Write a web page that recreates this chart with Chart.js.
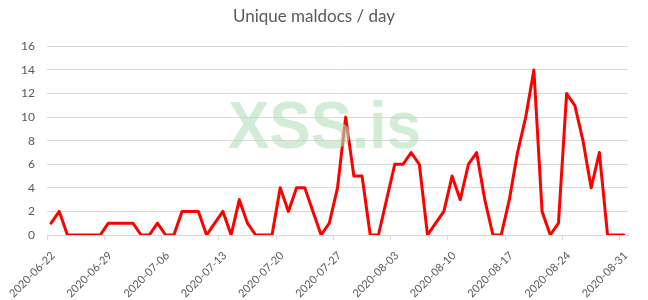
<!DOCTYPE html>
<html>
<head>
<meta charset="utf-8">
<script src="https://cdn.jsdelivr.net/npm/chart.js@4.4.1/dist/chart.umd.min.js"></script>
<style>
    html, body { margin: 0; padding: 0; background: #ffffff; }
    #wrap { width: 648px; height: 300px; }
</style>
</head>
<body>
<div id="wrap"><canvas id="canvas" width="648" height="300"></canvas></div>
<script>
    // one value per day, 2020-06-22 .. 2020-08-31
    var maldocs = [
        1, 2, 0, 0, 0, 0, 0, 1, 1, 1, 1, 0, 0, 1,      // 06-22 .. 07-05
        0, 0, 2, 2, 2, 0, 1, 2, 0, 3, 1, 0, 0, 0,      // 07-06 .. 07-19
        4, 2, 4, 4, 2, 0, 1, 4, 10, 5, 5, 0, 0, 3,     // 07-20 .. 08-02
        6, 6, 7, 6, 0, 1, 2, 5, 3, 6, 7, 3, 0, 0,      // 08-03 .. 08-16
        3, 7, 10, 14, 2, 0, 1, 12, 11, 8, 4, 7, 0, 0,  // 08-17 .. 08-30
        0                                              // 08-31
    ];
    var weekLabels = ['2020-06-22', '2020-06-29', '2020-07-06', '2020-07-13', '2020-07-20',
        '2020-07-27', '2020-08-03', '2020-08-10', '2020-08-17', '2020-08-24', '2020-08-31'];
    var yTicks = [0, 2, 4, 6, 8, 10, 12, 14, 16];

    var textGrey = '#595959';
    var gridGrey = '#d9d9d9';

    // watermark drawn over the line
    var watermark = {
        id: 'watermark',
        afterDatasetsDraw: function (chart) {
            var ctx = chart.ctx;
            ctx.save();
            ctx.font = 'bold 66px "Liberation Sans", Arial, sans-serif';
            var w = ctx.measureText('XSS.is').width;
            ctx.translate(324.5, 148);
            ctx.scale(193 / w, 1);
            ctx.textAlign = 'center';
            ctx.textBaseline = 'alphabetic';
            ctx.fillStyle = 'rgba(180, 223, 187, 0.6)';
            ctx.fillText('XSS.is', 0, 0);
            ctx.restore();
        }
    };

    var ctx = document.getElementById('canvas').getContext('2d');
    window.maldocChart = new Chart(ctx, {
        type: 'line',
        data: {
            datasets: [{
                label: 'Unique maldocs',
                data: maldocs.map(function (v, i) { return { x: i, y: v }; }),
                borderColor: '#ff0000',
                backgroundColor: '#ff0000',
                borderWidth: 3,
                borderJoinStyle: 'round',
                borderCapStyle: 'round',
                pointRadius: 0,
                tension: 0,
                fill: false
            }]
        },
        options: {
            responsive: false,
            animation: false,
            layout: { padding: { left: 0, right: 20, top: 0, bottom: 0 } },
            plugins: {
                legend: { display: false },
                tooltip: { enabled: false },
                title: {
                    display: true,
                    text: 'Unique maldocs / day',
                    color: textGrey,
                    font: { family: 'Lato', size: 17, weight: 'normal' },
                    padding: { top: 6, bottom: 20 }
                }
            },
            scales: {
                x: {
                    type: 'linear',
                    min: -0.5,
                    max: maldocs.length - 0.5,
                    afterBuildTicks: function (scale) {
                        scale.ticks = weekLabels.map(function (lbl, k) { return { value: k * 7 - 0.5 }; });
                    },
                    afterFit: function (scale) {
                        scale.height = 65;
                        scale.paddingLeft = 0;
                        scale.paddingRight = 0;
                    },
                    ticks: {
                        autoSkip: false,
                        maxRotation: 45,
                        minRotation: 45,
                        padding: 9,
                        labelOffset: 6,
                        color: textGrey,
                        font: { family: 'Lato', size: 11 },
                        callback: function (value, index) { return weekLabels[index]; }
                    },
                    grid: { drawOnChartArea: false, color: gridGrey, tickLength: 5 },
                    border: { color: gridGrey }
                },
                y: {
                    min: 0,
                    max: 16,
                    afterBuildTicks: function (scale) {
                        scale.ticks = yTicks.map(function (v) { return { value: v }; });
                    },
                    afterFit: function (scale) { scale.width = 47; },
                    ticks: {
                        padding: 12,
                        color: textGrey,
                        font: { family: 'Lato', size: 12 }
                    },
                    grid: { color: gridGrey, drawTicks: false },
                    border: { display: false }
                }
            }
        },
        plugins: [watermark]
    });
</script>
</body>
</html>
